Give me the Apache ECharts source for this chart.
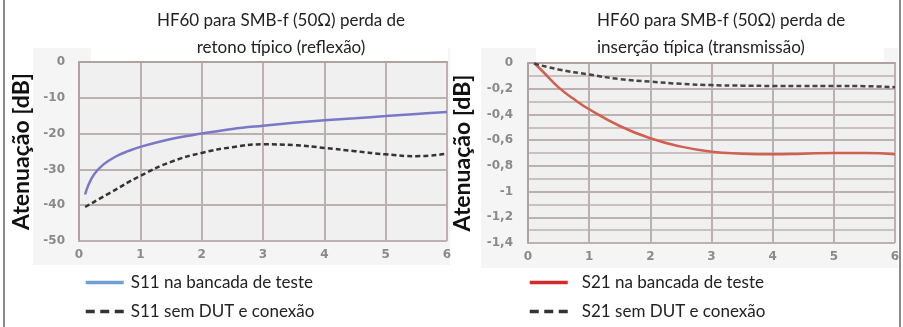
<!DOCTYPE html>
<html><head><meta charset="utf-8">
<script src="https://cdn.jsdelivr.net/npm/echarts@6/dist/echarts.min.js"></script>
<style>html,body{margin:0;padding:0;background:#fff}#c{width:903px;height:327px}</style>
</head><body><div id="c"></div>
<script>
// ---- data ----
const titleLeft = ['HF60 para SMB-f (50Ω) perda de', 'retono típico (reflexão)'];
const titleRight = ['HF60 para SMB-f (50Ω) perda de', 'inserção típica (transmissão)'];
const yName = 'Atenuação [dB]';
const nameS11Bench = 'S11 na bancada de teste';
const nameS11NoDut = 'S11 sem DUT e conexão';
const nameS21Bench = 'S21 na bancada de teste';
const nameS21NoDut = 'S21 sem DUT e conexão';

const s11BenchFreq = [0.1, 0.15, 0.25, 0.4, 0.6, 0.8, 1, 1.5, 2, 2.5, 3, 3.5, 4, 4.5, 5, 5.5, 6];
const s11Bench     = [-37, -34.5, -31.3, -28.6, -26.4, -24.9, -23.7, -21.5, -20, -18.7, -17.8, -17, -16.3, -15.7, -15.1, -14.5, -14];
const s11NoDutFreq = [0.1, 0.5, 1, 1.5, 2, 2.5, 3, 3.5, 4, 4.5, 5, 5.5, 6];
const s11NoDut     = [-40.5, -36.6, -31.8, -27.9, -25.4, -23.8, -23, -23.2, -24, -24.9, -25.8, -26.3, -25.6];

const s21BenchFreq = [0.1, 0.25, 0.5, 0.75, 1, 1.5, 2, 2.5, 3, 3.5, 4, 4.5, 5, 5.5, 6];
const s21Bench     = [0, -0.07, -0.19, -0.28, -0.36, -0.49, -0.585, -0.65, -0.69, -0.705, -0.71, -0.705, -0.7, -0.7, -0.71];
const s21NoDutFreq = [0.1, 0.5, 1, 1.5, 2, 2.5, 3, 3.5, 4, 4.5, 5, 5.5, 6];
const s21NoDut     = [-0.005, -0.05, -0.09, -0.125, -0.145, -0.162, -0.172, -0.176, -0.178, -0.178, -0.178, -0.18, -0.188];

const xTicks = [0, 1, 2, 3, 4, 5, 6];
const yTicksLeft = [0, -10, -20, -30, -40, -50];
const yTicksRight = [0, -0.2, -0.4, -0.6, -0.8, -1, -1.2, -1.4];

const pairs = (xs, ys) => xs.map((x, i) => [x, ys[i]]);

const FONT = 'Lato';
const gridCol = '#bcb0b0';
const tickLabel = {color: '#8a8a8a', fontFamily: 'DejaVu Sans', fontWeight: 'bold', fontSize: 12};
const hiddenSymbol = {opacity: 0};

function xAxis(gi) {
  return {
    type: 'value', gridIndex: gi, min: xTicks[0], max: xTicks[xTicks.length - 1], interval: 1,
    axisLine: {show: true, lineStyle: {color: '#ada3a3', width: 2}},
    axisTick: {show: false},
    axisLabel: Object.assign({margin: 8}, tickLabel),
    splitLine: {show: true, lineStyle: {color: gridCol, width: 2}}
  };
}

const chart = echarts.init(document.getElementById('c'), null, {renderer: 'canvas'});
chart.setOption({
  animation: false,
  backgroundColor: '#fff',
  graphic: [
    {type: 'rect', z: -10, shape: {x: 33, y: 48, width: 417, height: 217}, style: {fill: '#f5f5f5'}},
    {type: 'rect', z: -9, shape: {x: 91, y: 0, width: 357, height: 64}, style: {fill: '#fff'}},
    {type: 'rect', z: -10, shape: {x: 481, y: 48, width: 417, height: 220}, style: {fill: '#f5f5f5'}},
    {type: 'rect', z: -9, shape: {x: 536, y: 0, width: 348, height: 64}, style: {fill: '#fff'}},
    {type: 'rect', z: 10, shape: {x: 3, y: 0, width: 2, height: 327}, style: {fill: '#8a8a8a'}},
    {type: 'rect', z: 10, shape: {x: 899, y: 0, width: 2, height: 327}, style: {fill: '#8a8a8a'}},
    {type: 'text', z: 10, style: {text: titleLeft.join('\n'), x: 281, y: 7, align: 'center', verticalAlign: 'top',
      font: '17px ' + FONT, fill: '#222', lineHeight: 27}},
    {type: 'text', z: 10, style: {text: titleRight.join('\n'), x: 597, y: 7, align: 'left', verticalAlign: 'top',
      font: '17px ' + FONT, fill: '#222', lineHeight: 27}}
  ],
  grid: [
    {left: 79, right: 456, top: 62, height: 179, show: true, backgroundColor: '#f0f0f0', borderWidth: 0},
    {left: 528, right: 8, top: 63, height: 180, show: true, backgroundColor: '#f0f0f0', borderWidth: 0}
  ],
  xAxis: [xAxis(0), xAxis(1)],
  yAxis: [
    {
      type: 'value', gridIndex: 0, min: -50, max: 0, interval: 10,
      name: yName, nameLocation: 'middle', nameGap: 46,
      nameTextStyle: {fontFamily: FONT, fontWeight: 'bold', fontSize: 23, color: '#111'},
      axisLine: {show: true, lineStyle: {color: '#ada3a3', width: 2}},
      axisTick: {show: false},
      axisLabel: Object.assign({margin: 14}, tickLabel),
      splitLine: {show: true, lineStyle: {color: gridCol, width: 2}}
    },
    {
      type: 'value', gridIndex: 1, min: -1.4, max: 0, interval: 0.2,
      name: yName, nameLocation: 'middle', nameGap: 54,
      nameTextStyle: {fontFamily: FONT, fontWeight: 'bold', fontSize: 23, color: '#111'},
      axisLine: {show: true, lineStyle: {color: '#ada3a3', width: 2}},
      axisTick: {show: false},
      axisLabel: Object.assign({margin: 15, formatter: v => String(Math.round(v * 10) / 10).replace('.', ',')}, tickLabel),
      splitLine: {show: true, lineStyle: {color: gridCol, width: 2}},
      minorTick: {show: false, splitNumber: 2},
      minorSplitLine: {show: true, lineStyle: {color: gridCol, width: 1.5}}
    }
  ],
  legend: [
    {
      orient: 'vertical', left: 79, top: 269, itemWidth: 38, itemHeight: 16, itemGap: 12,
      textStyle: {fontFamily: FONT, fontSize: 17, color: '#222', padding: [0, 0, 0, 2]},
      data: [
        {name: nameS11Bench, itemStyle: hiddenSymbol, lineStyle: {color: '#6f9fd8', width: 3.5, type: 'solid'}},
        {name: nameS11NoDut, itemStyle: hiddenSymbol, lineStyle: {color: '#333', width: 3.5, type: [9, 5.5]}}
      ]
    },
    {
      orient: 'vertical', left: 523, top: 269, itemWidth: 38, itemHeight: 16, itemGap: 12,
      textStyle: {fontFamily: FONT, fontSize: 17, color: '#222', padding: [0, 0, 0, 9]},
      data: [
        {name: nameS21Bench, itemStyle: hiddenSymbol, lineStyle: {color: '#d42a2a', width: 3.5, type: 'solid'}},
        {name: nameS21NoDut, itemStyle: hiddenSymbol, lineStyle: {color: '#333', width: 3.5, type: [9, 5.5]}}
      ]
    }
  ],
  series: [
    {name: nameS11Bench, type: 'line', xAxisIndex: 0, yAxisIndex: 0, smooth: 0.4, symbol: 'none',
      data: pairs(s11BenchFreq, s11Bench), lineStyle: {color: '#7a78c6', width: 2.5}, itemStyle: {color: '#7a78c6'}},
    {name: nameS11NoDut, type: 'line', xAxisIndex: 0, yAxisIndex: 0, smooth: true, symbol: 'none',
      data: pairs(s11NoDutFreq, s11NoDut), lineStyle: {color: '#333', width: 2.5, type: [5, 3]}, itemStyle: {color: '#333'}},
    {name: nameS21Bench, type: 'line', xAxisIndex: 1, yAxisIndex: 1, smooth: true, symbol: 'none',
      data: pairs(s21BenchFreq, s21Bench), lineStyle: {color: '#d0604f', width: 2.5}, itemStyle: {color: '#d0604f'}},
    {name: nameS21NoDut, type: 'line', xAxisIndex: 1, yAxisIndex: 1, smooth: true, symbol: 'none',
      data: pairs(s21NoDutFreq, s21NoDut), lineStyle: {color: '#444', width: 2.5, type: [5, 3]}, itemStyle: {color: '#444'}}
  ]
});
</script></body></html>
